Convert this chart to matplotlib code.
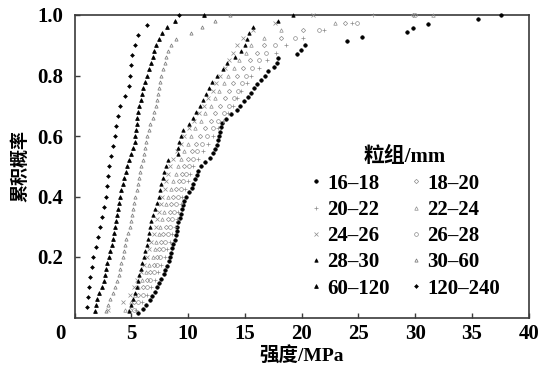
import numpy as np
import matplotlib
matplotlib.use("Agg")
import matplotlib.pyplot as plt
from matplotlib.transforms import ScaledTranslation

plt.rcParams['font.family'] = ['Liberation Serif', 'Noto Sans CJK SC']
plt.rcParams['font.weight'] = 'bold'

# ---- data: strength values (MPa) of each size fraction, sorted ----
s_16_18 = [5.6, 6.0, 6.3, 6.6, 6.85, 7.1, 7.3, 7.45, 7.65, 7.85, 8.0, 8.15, 8.3, 8.4, 8.5,
           8.6, 8.7, 8.8, 8.9, 9.0, 9.05, 9.15, 9.25, 9.35, 9.45, 9.55, 9.65, 9.85, 10.05, 10.3,
           10.45, 10.6, 10.75, 10.9, 11.1, 11.5, 11.95, 12.2, 12.35, 12.5, 12.6, 12.7, 12.8, 12.9, 13.0,
           13.3, 13.8, 14.3, 14.6, 14.9, 15.25, 15.5, 15.8, 16.05, 16.4, 16.75, 17.05, 17.6, 17.8, 17.9,
           19.6, 19.9, 20.3, 24.0, 25.3, 29.3, 29.8, 31.1, 35.5, 37.6]
s_18_20 = [4.85, 5.23, 5.62, 6.0, 6.34, 6.68, 6.97, 7.26, 7.45, 7.64, 7.83, 8.03, 8.22, 8.36, 8.51,
           8.7, 8.94, 9.18, 9.42, 9.67, 10.0, 10.34, 10.68, 11.02, 11.5, 11.98, 12.37, 12.85, 13.23, 13.62,
           13.91, 14.29, 14.87, 15.45, 16.03, 16.7, 18.15, 20.08, 23.84, 29.8]
s_20_22 = [5.42, 5.91, 6.39, 6.77, 7.06, 7.35, 7.64, 7.93, 8.17, 8.36, 8.61, 8.8, 8.99, 9.14, 9.33,
           9.47, 9.71, 9.95, 10.2, 10.44, 10.87, 11.3, 11.74, 12.17, 12.61, 13.04, 13.47, 13.91, 14.29, 14.68,
           15.16, 15.55, 16.22, 16.99, 17.76, 18.63, 20.08, 22.0, 24.4, 26.3]
s_22_24 = [4.46, 4.94, 5.33, 5.62, 5.95, 6.29, 6.58, 6.87, 7.06, 7.21, 7.4, 7.55, 7.74, 7.88, 8.08,
           8.22, 8.46, 8.65, 8.89, 9.09, 9.38, 9.67, 9.95, 10.24, 10.63, 11.11, 11.5, 11.98, 12.37, 12.75,
           13.14, 13.52, 14.0, 14.49, 15.06, 15.55, 16.7, 18.15, 22.97, 31.6]
s_24_26 = [2.95, 4.27, 4.85, 5.23, 5.52, 5.81, 6.1, 6.39, 6.58, 6.77, 6.97, 7.16, 7.3, 7.45, 7.59,
           7.74, 7.93, 8.08, 8.22, 8.41, 8.7, 8.99, 9.33, 9.67, 10.05, 10.53, 10.92, 11.4, 11.79, 12.17,
           12.46, 12.85, 13.23, 13.62, 13.91, 14.29, 14.87, 15.74, 17.67, 21.04]
s_26_28 = [5.23, 5.62, 6.0, 6.39, 6.68, 6.97, 7.26, 7.55, 7.79, 7.98, 8.22, 8.41, 8.61, 8.75, 8.94,
           9.09, 9.33, 9.57, 9.81, 10.05, 10.44, 10.82, 11.26, 11.69, 12.17, 12.65, 13.14, 13.62, 14.0, 14.39,
           14.78, 15.06, 15.64, 16.22, 16.9, 17.67, 19.4, 21.52, 24.9, 30.0]
s_28_30 = [4.75, 4.99, 5.14, 5.33, 5.47, 5.62, 5.71, 5.81, 5.95, 6.1, 6.2, 6.34, 6.44, 6.53, 6.63,
           6.77, 6.87, 7.06, 7.26, 7.4, 7.55, 7.64, 7.79, 7.88, 8.03, 8.22, 9.09, 9.09, 9.18, 9.38,
           9.57, 10.05, 10.44, 10.73, 11.02, 11.3, 11.59, 11.88, 12.08, 12.56, 13.04, 13.43, 14.1, 14.68, 14.97,
           15.16, 15.35, 15.74, 17.96, 19.21]
s_30_60 = [2.73, 2.92, 3.16, 3.4, 3.59, 3.74, 3.88, 3.98, 4.07, 4.22, 4.36, 4.46, 4.56, 4.7, 4.85,
           4.94, 5.04, 5.14, 5.23, 5.33, 5.47, 5.57, 5.67, 5.76, 5.86, 6.0, 6.1, 6.2, 6.29, 6.39,
           6.53, 6.68, 6.87, 7.01, 7.16, 7.26, 7.35, 7.45, 7.55, 7.64, 7.79, 7.93, 8.08, 8.22, 8.51,
           8.89, 10.24, 11.21, 12.37, 13.71]
s_60_120 = [1.76, 1.86, 2.0, 2.15, 2.39, 2.58, 2.68, 2.77, 2.87, 3.01, 3.16, 3.26, 3.35, 3.45, 3.54,
            3.64, 3.74, 3.79, 3.88, 3.98, 4.07, 4.22, 4.36, 4.51, 4.6, 4.75, 4.94, 5.18, 5.28, 5.35,
            5.42, 5.47, 5.52, 5.62, 5.71, 5.81, 5.95, 6.05, 6.2, 6.39, 6.58, 6.77, 6.87, 7.01, 7.16,
            7.45, 7.74, 8.12, 8.8, 11.4]
s_120_240 = [1.1, 1.2, 1.3, 1.4, 1.5, 1.65, 1.85, 2.05, 2.25, 2.4, 2.55, 2.73, 2.82, 2.92, 3.06,
             3.21, 3.4, 3.59, 3.69, 3.83, 3.98, 4.46, 4.75, 4.89, 4.99, 5.09, 5.28, 5.62, 6.39, 9.18]

labels = ['16–18', '18–20', '20–22', '22–24', '24–26', '26–28',
          '28–30', '30–60', '60–120', '120–240']
samples = [s_16_18, s_18_20, s_20_22, s_22_24, s_24_26, s_26_28,
           s_28_30, s_30_60, s_60_120, s_120_240]

x_ticks = [0, 5, 10, 15, 20, 25, 30, 35, 40]
y_ticks = [0.2, 0.4, 0.6, 0.8, 1.0]
y_ticklabels = ['0.2', '0.4', '0.6', '0.8', '1.0']

# ---- styles ----
G = '#8c8c8c'
styles = [
    dict(marker='o', mfc='black', mec='black', ms=2.6, mew=0.4),
    dict(marker='D', mfc='none', mec=G, ms=2.2, mew=0.5),
    dict(marker='+', mfc='none', mec=G, ms=2.7, mew=0.5),
    dict(marker='^', mfc='none', mec=G, ms=2.5, mew=0.5),
    dict(marker='x', mfc='none', mec=G, ms=2.3, mew=0.5),
    dict(marker='o', mfc='none', mec=G, ms=2.7, mew=0.5),
    dict(marker='^', mfc='black', mec='black', ms=2.5, mew=0.5),
    dict(marker='^', mfc='none', mec='#7a7a7a', ms=2.3, mew=0.55),
    dict(marker='^', mfc='black', mec='black', ms=2.7, mew=0.6),
    dict(marker='D', mfc='black', mec='black', ms=2.0, mew=0.4),
]

W, H = 542, 370
fig = plt.figure(figsize=(W / 100, H / 100), dpi=100)
ax = fig.add_axes([74.6 / W, 1 - 317.5 / H, (528.7 - 74.6) / W, (317.5 - 15) / H])

handles = []
for s, lab, st in zip(samples, labels, styles):
    xs = np.sort(np.asarray(s))
    ys = np.arange(1, len(xs) + 1) / len(xs)
    h, = ax.plot(xs, ys, ls='none', label=lab, clip_on=False, zorder=3, **st)
    handles.append(h)

ax.set_xlim(0, 40)
ax.set_ylim(0, 1.0)
ax.set_xticks(x_ticks)
ax.set_xticklabels([str(v) for v in x_ticks])
ax.set_yticks(y_ticks)
ax.set_yticklabels(y_ticklabels)

for sp in ax.spines.values():
    sp.set_color('#3a3a3a')
    sp.set_linewidth(1.2)
ax.tick_params(direction='in', length=3.5, width=1.0, color='#3a3a3a',
               labelsize=15, top=False, right=False)
ax.tick_params(axis='x', pad=5)
ax.tick_params(axis='y', pad=8)
for lbl in ax.get_xticklabels() + ax.get_yticklabels():
    lbl.set_fontweight('bold')
# the origin label "0" sits left of the corner
first = ax.get_xticklabels()[0]
first.set_transform(first.get_transform() + ScaledTranslation(-14 / 100, 0, fig.dpi_scale_trans))

ax.set_xlabel('强度/MPa', fontsize=14, fontweight='bold', labelpad=1.5)
ax.set_ylabel('累积概率', fontsize=13, fontweight='bold', labelpad=6)

order = [0, 2, 4, 6, 8, 1, 3, 5, 7, 9]
leg = ax.legend([handles[i] for i in order], [labels[i] for i in order],
                ncol=2, loc='center', bbox_to_anchor=(405 / W, 1 - 223 / H),
                bbox_transform=fig.transFigure, frameon=False,
                title='粒组/mm', prop=dict(size=15, weight='bold'),
                title_fontproperties=dict(size=15, weight='bold'),
                handlelength=0.5, handletextpad=0.3, columnspacing=1.0,
                labelspacing=0.3, borderpad=0.2, markerscale=1.0)

fig.savefig('out.png', dpi=100)
